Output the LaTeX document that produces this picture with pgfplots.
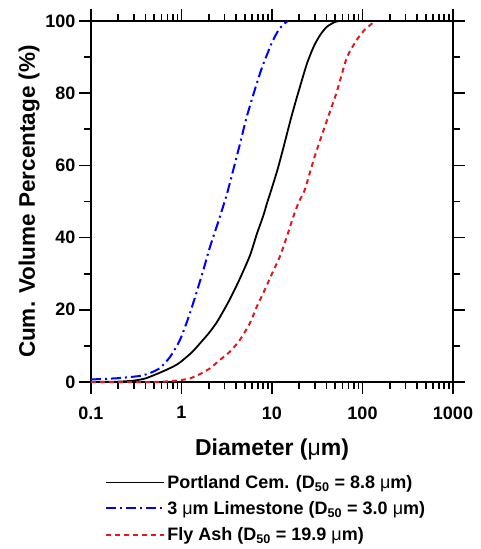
\documentclass[border=0pt]{standalone}
\usepackage{fontspec}
\setmainfont{Liberation Sans}
\usepackage{pgfplots}
\pgfplotsset{compat=1.18}
\definecolor{flyred}{RGB}{225,25,30}
\begin{document}
\begin{tikzpicture}
\begin{axis}[
    scale only axis,
    width=362pt, height=361pt,
    xmode=log,
    xmin=0.1, xmax=1000,
    ymin=0, ymax=100,
    xtick={0.1,1,10,100,1000},
    xticklabels={0.1,1,10,100,1000},
    ytick={0,20,40,60,80,100},
    minor ytick={10,30,50,70,90},
    tick align=outside,
    major tick length=12pt,
    minor tick length=7pt,
    axis line style={line width=2pt},
    every tick/.style={line width=1.6pt, black},
    /pgf/number format/assume math mode=true,
    tick label style={font=\bfseries\fontsize{18}{20}\selectfont},
    xticklabel style={yshift=-9pt},
    xlabel style={font=\bfseries\fontsize{23}{26}\selectfont, yshift=-13pt},
    ylabel style={font=\bfseries\fontsize{22.5}{25}\selectfont, yshift=-1pt},
    xlabel={Diameter ({\mdseries μ}m)},
    ylabel={Cum. Volume Percentage (\%)},
    clip=false,
    legend cell align=left,
    legend style={at={(0.039,-0.252)}, anchor=north west, draw=none,
        fill=none, inner sep=0pt, row sep=7.5pt,
        font=\bfseries\fontsize{18}{20}\selectfont},
    legend image code/.code={\draw[#1] (0pt,0pt) -- (58pt,0pt);},
]
\addplot[black, line width=1.8pt, smooth, tension=0.4] coordinates {
(0.1,0) (0.2,0.1) (0.3,0.4) (0.4,1.0) (0.58,2.6) (0.8,4.2) (0.96,5.4)
(1.3,8.2) (1.6,10.7) (2.0,13.5) (2.45,16.5) (3.0,20.3) (3.43,23.0)
(4.3,28) (5.7,35) (6.8,41) (8.0,46) (8.8,49.5) (9.9,53.5) (11.5,58.8)
(13.3,64.7) (16,72.5) (18.7,78.6) (24.2,88) (29,93) (34,96.1)
(40,98.3) (47.5,99.5) (55,100) (80,100)
};
\addlegendentry{Portland Cem. (D\textsubscript{50} = 8.8 {\mdseries μ}m)}
\addplot[blue, line width=2pt, dash pattern=on 10pt off 4pt on 2pt off 4pt,
    smooth, tension=0.4] coordinates {
(0.1,0.7) (0.15,0.9) (0.21,1.1) (0.35,1.7) (0.45,2.5) (0.58,3.9)
(0.75,7) (0.96,11.6) (1.18,17.5) (1.4,23.2) (1.72,30.5) (2.07,37.5)
(2.55,44.4) (3.0,50) (3.3,53.6) (4.4,65.7) (5.2,73) (6.2,79.5)
(7.7,86.9) (9.9,93.8) (12,97.8) (13.9,99.4) (15,100)
};
\addlegendentry{3 {\mdseries μ}m Limestone (D\textsubscript{50} = 3.0 {\mdseries μ}m)}
\addplot[flyred, line width=2pt, dash pattern=on 5pt off 4pt,
    smooth, tension=0.4] coordinates {
(0.1,0) (0.5,0) (0.89,0.4) (1.24,1.0) (1.6,2.2) (2.07,3.8) (2.65,6.1)
(3.43,8.4) (4.4,11.6) (5.7,16.3) (6.8,20.9) (8.0,24.6) (10,30)
(12.2,34.7) (14.7,40.5) (17.2,45.8) (19.9,50) (23,53.2) (30,62.9)
(40,72.1) (52,80.4) (66.8,89.7) (86,94.7) (105,97.5) (126,99.2) (135,100)
};
\addlegendentry{Fly Ash (D\textsubscript{50} = 19.9 {\mdseries μ}m)}
\path (rel axis cs:0,0) ++(-91pt,-167pt) rectangle ++(480pt,549pt);
\end{axis}
\end{tikzpicture}
\end{document}
